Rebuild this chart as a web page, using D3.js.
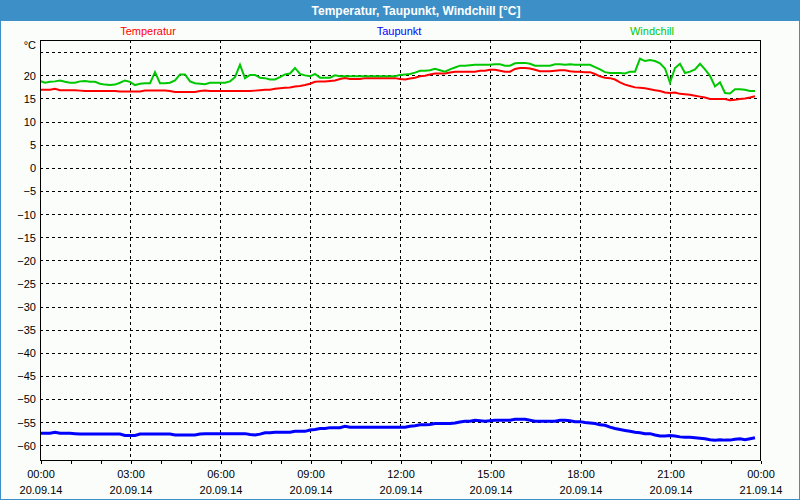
<!DOCTYPE html>
<html><head><meta charset="utf-8">
<script src="https://cdn.jsdelivr.net/npm/d3@7"></script>
<style>body{margin:0;background:#fff;} svg{display:block;}</style>
</head><body><svg id="c" width="800" height="500"></svg>
<script>
const chartTitle = "Temperatur, Taupunkt, Windchill [°C]";
const seriesNames = ["Temperatur", "Taupunkt", "Windchill"];
const unitLabel = "°C";
const startDate = new Date(2014, 8, 20, 0, 0);
const endDate = new Date(2014, 8, 21, 0, 0);
const intervalMinutes = 10;

const temperatur = [
16.9,16.9,16.9,17.1,16.8,16.8,16.8,16.8,16.7,16.6,
16.6,16.6,16.6,16.6,16.6,16.6,16.5,16.5,16.5,16.5,
16.5,16.7,16.7,16.7,16.7,16.7,16.6,16.4,16.4,16.4,
16.4,16.4,16.6,16.7,16.6,16.6,16.6,16.6,16.6,16.6,
16.6,16.6,16.6,16.7,16.8,16.9,16.9,17.1,17.2,17.3,
17.4,17.6,17.7,17.9,18.2,18.6,18.7,18.7,18.8,18.9,
19.2,19.4,19.2,19.2,19.2,19.4,19.4,19.4,19.4,19.4,
19.4,19.4,19.2,19.1,19.3,19.5,19.8,19.9,20.2,20.4,
20.4,20.4,20.6,20.8,20.8,20.8,20.8,20.8,21.0,21.0,
21.2,21.2,21.0,20.8,20.8,21.4,21.6,21.6,21.5,21.2,
20.9,20.9,20.9,21.0,21.1,21.1,20.9,20.8,20.8,20.7,
20.7,20.3,19.8,19.5,19.4,19.1,18.5,18.0,17.7,17.4,
17.3,17.2,17.0,16.8,16.6,16.3,16.2,16.3,16.0,15.9,
15.8,15.6,15.4,15.2,14.9,14.9,14.9,14.9,14.6,14.7,
14.9,15.0,15.2,15.5
];

const taupunkt = [
-57.4,-57.4,-57.4,-57.2,-57.4,-57.4,-57.4,-57.5,-57.6,-57.6,
-57.6,-57.6,-57.6,-57.6,-57.6,-57.6,-57.6,-57.9,-57.9,-57.9,
-57.6,-57.6,-57.6,-57.6,-57.6,-57.6,-57.6,-57.8,-57.8,-57.8,
-57.8,-57.8,-57.6,-57.5,-57.5,-57.5,-57.5,-57.5,-57.5,-57.5,
-57.5,-57.5,-57.7,-57.8,-57.6,-57.3,-57.3,-57.2,-57.2,-57.2,
-57.2,-57.0,-57.0,-57.0,-56.7,-56.6,-56.4,-56.4,-56.2,-56.2,
-56.2,-55.9,-56.1,-56.1,-56.1,-56.1,-56.1,-56.1,-56.1,-56.1,
-56.1,-56.1,-56.1,-56.1,-55.9,-55.8,-55.6,-55.6,-55.5,-55.3,
-55.3,-55.3,-55.3,-55.2,-55.0,-54.8,-54.8,-54.6,-54.7,-54.8,
-54.7,-54.6,-54.6,-54.6,-54.6,-54.4,-54.4,-54.4,-54.6,-54.8,
-54.8,-54.8,-54.8,-54.8,-54.6,-54.6,-54.7,-54.9,-54.9,-55.1,
-55.2,-55.3,-55.6,-55.7,-56.1,-56.4,-56.6,-56.8,-57.0,-57.2,
-57.3,-57.5,-57.5,-57.8,-58.0,-58.0,-57.9,-58.0,-58.2,-58.3,
-58.3,-58.4,-58.5,-58.6,-58.8,-58.9,-58.8,-58.9,-58.9,-58.7,
-58.6,-58.8,-58.6,-58.4
];

const windchill = [
18.8,18.4,18.6,18.7,18.9,18.6,18.4,18.4,18.7,18.8,
18.6,18.6,18.2,18.0,17.9,18.0,18.4,18.9,18.6,17.9,
18.2,18.3,18.3,20.7,18.3,18.3,18.4,18.9,20.2,20.2,
18.7,18.3,18.2,18.1,18.4,18.4,18.4,18.4,18.7,19.6,
22.3,19.4,20.1,20.1,19.5,19.4,19.1,19.1,19.6,20.2,
20.4,21.6,20.3,20.0,19.8,20.3,19.5,19.5,19.5,20.0,
19.8,19.8,19.8,19.8,19.8,19.8,19.8,19.8,19.8,19.8,
19.8,19.8,20.1,20.2,20.3,20.6,21.0,21.0,21.1,21.4,
21.1,20.8,21.3,21.7,22.1,22.1,22.2,22.3,22.3,22.3,
22.3,22.4,22.4,22.1,22.1,22.6,22.7,22.7,22.5,22.1,
22.1,22.1,22.1,22.4,22.4,22.3,22.4,22.3,22.3,22.3,
22.3,21.8,21.3,20.7,20.5,20.5,20.5,20.4,20.8,20.8,
23.6,23.1,23.3,23.1,22.6,21.5,18.4,21.6,22.5,20.5,
20.8,21.3,22.5,21.3,19.9,17.6,18.5,16.2,16.1,17.0,
17.0,16.9,16.6,16.6
];

const yTickValues = [-60,-55,-50,-45,-40,-35,-30,-25,-20,-15,-10,-5,0,5,10,15,20];
const yGridValues = [-60,-55,-50,-45,-40,-35,-30,-25,-20,-15,-10,-5,0,5,10,15,20,25];
const xTickTimeLabels = ["00:00","03:00","06:00","09:00","12:00","15:00","18:00","21:00","00:00"];
const xTickDateLabels = ["20.09.14","20.09.14","20.09.14","20.09.14","20.09.14","20.09.14","20.09.14","20.09.14","21.09.14"];

const colors = { Temperatur: "#ff0000", Taupunkt: "#0000ff", Windchill: "#00c800" };
const widths = { Temperatur: 2, Taupunkt: 3, Windchill: 2 };
const FONT = "'Liberation Sans', Arial, sans-serif";

const svg = d3.select("#c");
const W = 800, H = 500;
const L = 40, R = 760, T = 40, B = 460;

svg.append("rect").attr("x",0).attr("y",0).attr("width",W).attr("height",H).attr("fill","#3d90c7");
svg.append("rect").attr("x",1).attr("y",21).attr("width",W-2).attr("height",H-22).attr("fill","#fbfdfb");

svg.append("text").attr("x",416).attr("y",15).attr("text-anchor","middle")
  .attr("font-family",FONT).attr("font-size",12).attr("font-weight","bold").attr("fill","#ffffff")
  .text(chartTitle);

const x = d3.scaleTime().domain([startDate, endDate]).range([L, R]);
const y = d3.scaleLinear().domain([-63.2, 27.65]).range([B, T]);

const timeOf = i => new Date(startDate.getTime() + i * intervalMinutes * 60000);

// horizontal grid
const grid = svg.append("g").attr("shape-rendering","crispEdges");
grid.selectAll("line.h").data(yGridValues).join("line")
  .attr("x1",L).attr("x2",R)
  .attr("y1",d=>Math.round(y(d))+0.5).attr("y2",d=>Math.round(y(d))+0.5)
  .attr("stroke","#000").attr("stroke-width",1).attr("stroke-dasharray","3,3");
// vertical grid every 3h
const vGrid = d3.range(1,8).map(h => new Date(startDate.getTime() + h*3*3600000));
grid.selectAll("line.v").data(vGrid).join("line")
  .attr("x1",d=>Math.round(x(d))+0.5).attr("x2",d=>Math.round(x(d))+0.5)
  .attr("y1",T).attr("y2",B)
  .attr("stroke","#000").attr("stroke-width",1).attr("stroke-dasharray","3,3");

// hour ticks via axis
const hourTicks = d3.range(0,25).map(h => new Date(startDate.getTime() + h*3600000));
const xAxis = d3.axisBottom(x).tickValues(hourTicks).tickSize(3).tickFormat("");
const gx = svg.append("g").attr("transform",`translate(0.5,${B+0.5})`).attr("shape-rendering","crispEdges").call(xAxis);
gx.select(".domain").remove();
gx.selectAll("line").attr("stroke","#000");

// x labels
const labelTimes = d3.range(0,9).map(k => new Date(startDate.getTime() + k*3*3600000));
const xl = svg.append("g").attr("font-family",FONT).attr("font-size",11).attr("fill","#000").attr("text-anchor","middle");
xl.selectAll("text.t").data(labelTimes).join("text")
  .attr("x",d=>x(d)+1).attr("y",478).text((d,i)=>xTickTimeLabels[i]);
xl.selectAll("text.d").data(labelTimes).join("text")
  .attr("x",d=>x(d)+1).attr("y",494).text((d,i)=>xTickDateLabels[i]);

// y labels via axis
const yAxis = d3.axisLeft(y).tickValues(yTickValues).tickSize(0).tickPadding(4).tickFormat(d3.format("d"));
const gy = svg.append("g").attr("transform",`translate(${L},0)`).call(yAxis);
gy.select(".domain").remove();
gy.selectAll("text").attr("font-family",FONT).attr("font-size",11).attr("fill","#000").attr("dy","0.36em");
svg.append("text").attr("x",36).attr("y",49).attr("text-anchor","end")
  .attr("font-family",FONT).attr("font-size",11).attr("fill","#000").text(unitLabel);

// series
const series = [
  {name: seriesNames[0], values: temperatur},
  {name: seriesNames[2], values: windchill},
  {name: seriesNames[1], values: taupunkt}
];
const line = d3.line().x((d,i)=>x(timeOf(i))).y(d=>y(d));
const clip = svg.append("clipPath").attr("id","clip").append("rect").attr("x",L).attr("y",T).attr("width",R-L).attr("height",B-T);
svg.append("g").attr("clip-path","url(#clip)").selectAll("path").data(series).join("path")
  .attr("d",s=>line(s.values)).attr("fill","none")
  .attr("stroke",s=>colors[s.name]).attr("stroke-width",s=>widths[s.name])
  .attr("stroke-linejoin","miter");

// frame
svg.append("rect").attr("x",L+0.5).attr("y",T+0.5).attr("width",R-L).attr("height",B-T)
  .attr("fill","none").attr("stroke","#000").attr("stroke-width",1).attr("shape-rendering","crispEdges");

// legend
const legendX = { Temperatur: 148, Taupunkt: 399, Windchill: 652 };
svg.append("g").selectAll("text").data(seriesNames).join("text")
  .attr("x",d=>legendX[d]).attr("y",35).attr("text-anchor","middle")
  .attr("font-family",FONT).attr("font-size",11).attr("fill",d=>colors[d]).text(d=>d);
</script>
</body></html>
